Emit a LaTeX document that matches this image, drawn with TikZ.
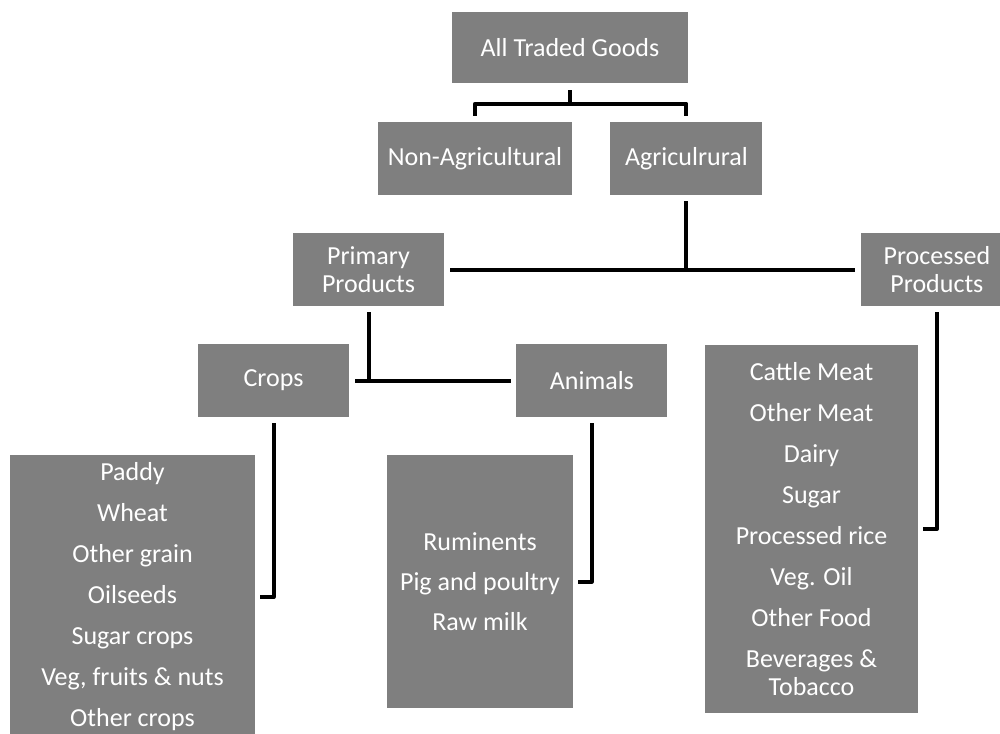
\documentclass[tikz,border=0pt]{standalone}
\usepackage{fontspec}
\setmainfont{Carlito}
\usetikzlibrary{positioning}

\definecolor{boxgray}{HTML}{7F7F7F}

\begin{document}
\begin{tikzpicture}[x=1pt, y=-1pt,
    box/.style={fill=boxgray, text=white, inner sep=0pt, align=center,
      font=\fontsize{26}{28}\selectfont},
    link/.style={draw=black, line width=4pt, line join=round}]
    \useasboundingbox (0,0) rectangle (1000,733);
    \clip (0,0) rectangle (1000,733);

    \node[box, minimum width=236pt, minimum height=71pt] (all) at (570,47.5) {All Traded Goods};
    \node[box, minimum width=194pt, minimum height=73pt] (nonagri) at (475,158.5) {Non-Agricultural};
    \node[box, minimum width=152pt, minimum height=73pt, right=38pt of nonagri] (agri) {Agriculrural};

    \node[box, minimum width=151pt, minimum height=73pt] (primary) at (368.5,269.5) {Primary\\Products};
    \node[box, minimum width=151pt, minimum height=73pt, right=417pt of primary] (processed) {Processed\\Products};

    \node[box, minimum width=151pt, minimum height=73pt] (crops) at (273.5,380.5) {Crops};
    \node[box, minimum width=151pt, minimum height=73pt, right=167pt of crops] (animals) {Animals};

    \node[box, minimum width=245pt, minimum height=284pt] (croplist) at (132.5,597)
      {Paddy\\[13pt] Wheat\\[13pt] Other grain\\[13pt] Oilseeds\\[13pt] Sugar crops\\[13pt] Veg, fruits \& nuts\\[13pt] Other crops};
    \node[box, minimum width=186pt, minimum height=253pt] (animallist) at (480,581.5)
      {Ruminents\\[12pt] Pig and poultry\\[12pt] Raw milk};
    \node[box, minimum width=213pt, minimum height=368pt] (proclist) at (811.5,529)
      {Cattle Meat\\[13pt] Other Meat\\[13pt] Dairy\\[13pt] Sugar\\[13pt] Processed rice\\[13pt] Veg. Oil\\[13pt] Other Food\\[13pt] Beverages \&\\ Tobacco};

    % brackets between levels
    \draw[link] ([yshift=-7pt]all.south) -- ++(0,14);
    \draw[link] ([yshift=6pt]nonagri.north) -- ++(0,-12) -| ([yshift=6pt]agri.north);
    \draw[link] ([yshift=-6pt]agri.south) -- (agri.south |- primary.east);
    \draw[link] ([xshift=6pt]primary.east) -- ([xshift=-6pt]processed.west);
    \draw[link] ([yshift=-6pt]primary.south) -- (primary.south |- crops.east);
    \draw[link] ([xshift=6pt]crops.east) -- ([xshift=-5pt]animals.west);

    % lists
    \draw[link] ([yshift=-6pt]crops.south) |- ([xshift=5pt]croplist.east);
    \draw[link] ([yshift=-6pt]animals.south) |- ([xshift=5pt]animallist.east);
    \draw[link] ([yshift=-6pt]processed.south) |- ([xshift=5pt]proclist.east);
\end{tikzpicture}
\end{document}
